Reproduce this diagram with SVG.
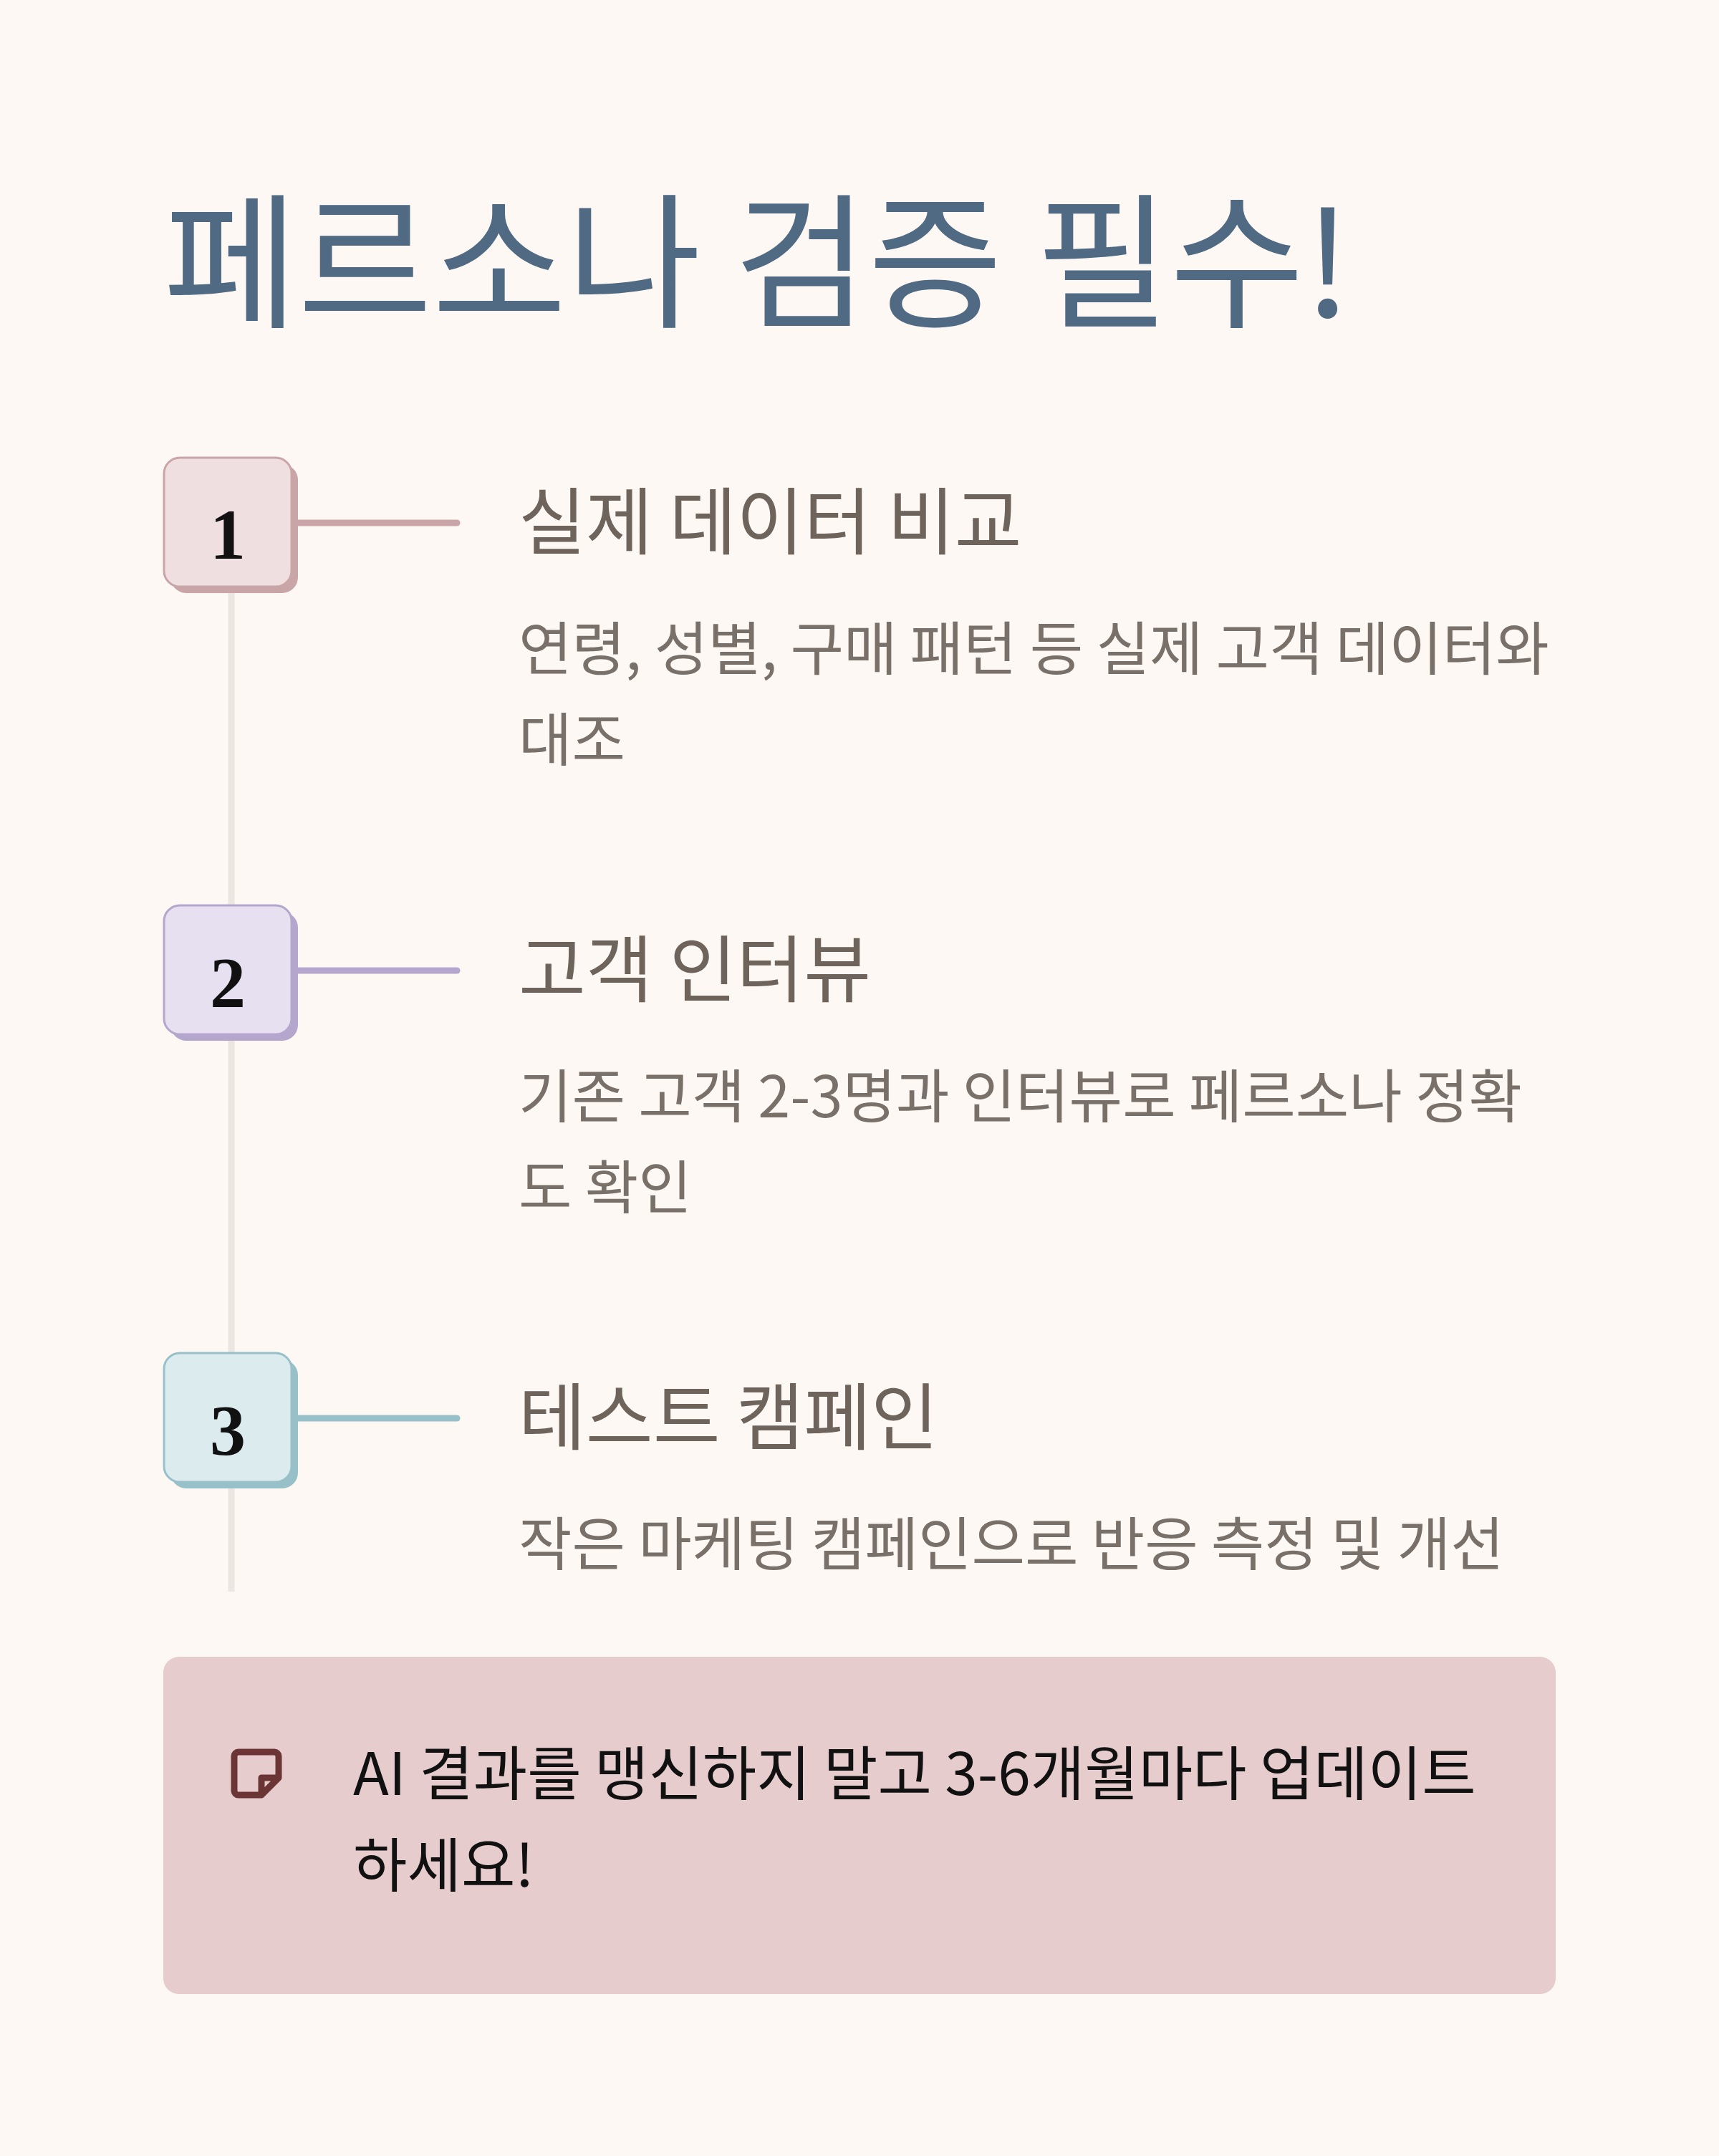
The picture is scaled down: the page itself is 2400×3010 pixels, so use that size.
<svg xmlns="http://www.w3.org/2000/svg" width="2400" height="3010" viewBox="0 0 2400 3010">
<style>
.h{font-family:"Noto Sans CJK KR","Noto Sans",sans-serif;font-size:102px;fill:#6e645c}
.d{font-family:"Noto Sans CJK KR","Noto Sans",sans-serif;font-size:81px;fill:#7a706a}
.n{font-family:"Liberation Serif",serif;font-size:100px;font-weight:bold;fill:#111;text-anchor:middle}
</style>
<rect width="2400" height="3010" fill="#fdf8f4"/>
<text x="228" y="442" font-family="'Noto Sans CJK KR',sans-serif" font-size="204" fill="#4f6a82">페르소나 검증 필수!</text>
<g id="connectors">
<line x1="323" y1="820" x2="323" y2="2222" stroke="#ebe6e0" stroke-width="9"/>
<line x1="412" y1="730" x2="638" y2="730" stroke="#c9a5a8" stroke-width="9" stroke-linecap="round"/>
<line x1="412" y1="1355" x2="638" y2="1355" stroke="#b4a6cc" stroke-width="9" stroke-linecap="round"/>
<line x1="412" y1="1980" x2="638" y2="1980" stroke="#97c0c8" stroke-width="9" stroke-linecap="round"/>
</g>
<g id="step1">
<rect x="238" y="648" width="178" height="180" rx="22" fill="#c9a5a8"/>
<rect x="229" y="639" width="178" height="180" rx="22" fill="#f0dfe0" stroke="#c9a5a8" stroke-width="3"/>
<text class="n" x="318" y="780">1</text>
<text class="h" x="724" y="766">실제 데이터 비교</text>
<text class="d" x="724" y="935">연령, 성별, 구매 패턴 등 실제 고객 데이터와</text>
<text class="d" x="724" y="1062">대조</text>
</g>
<g id="step2">
<rect x="238" y="1273" width="178" height="180" rx="22" fill="#b4a6cc"/>
<rect x="229" y="1264" width="178" height="180" rx="22" fill="#e6e0f0" stroke="#b4a6cc" stroke-width="3"/>
<text class="n" x="318" y="1405">2</text>
<text class="h" x="724" y="1391">고객 인터뷰</text>
<text class="d" x="724" y="1560">기존 고객 2-3명과 인터뷰로 페르소나 정확</text>
<text class="d" x="724" y="1687">도 확인</text>
</g>
<g id="step3">
<rect x="238" y="1898" width="178" height="180" rx="22" fill="#97c0c8"/>
<rect x="229" y="1889" width="178" height="180" rx="22" fill="#dcecee" stroke="#97c0c8" stroke-width="3"/>
<text class="n" x="318" y="2030">3</text>
<text class="h" x="724" y="2016">테스트 캠페인</text>
<text class="d" x="724" y="2185">작은 마케팅 캠페인으로 반응 측정 및 개선</text>
</g>
<g id="callout">
<rect x="228" y="2313" width="1944" height="471" rx="22" fill="#e6cccc"/>
<path d="M333 2446 h50 a6 6 0 0 1 6 6 v30 l-24 24 h-32 a6 6 0 0 1 -6 -6 v-48 a6 6 0 0 1 6 -6 z M365 2506 v-24 h24" fill="none" stroke="#6b3535" stroke-width="9" stroke-linejoin="round"/>
<text x="493" y="2506" font-family="'Noto Sans CJK KR',sans-serif" font-size="82" fill="#111">AI 결과를 맹신하지 말고 3-6개월마다 업데이트</text>
<text x="493" y="2634" font-family="'Noto Sans CJK KR',sans-serif" font-size="82" fill="#111">하세요!</text>
</g>
</svg>
